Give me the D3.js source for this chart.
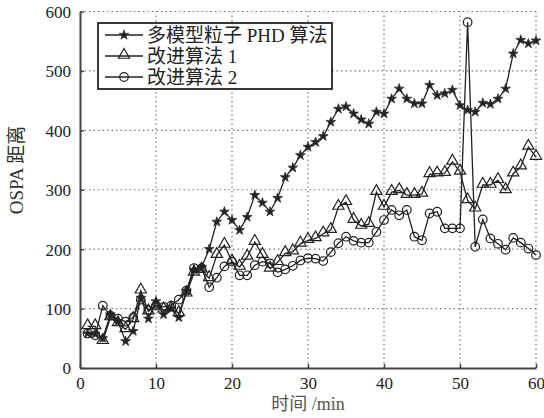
<!DOCTYPE html>
<html>
<head>
<meta charset="utf-8"/>
<title>OSPA</title>
<script src="https://cdn.jsdelivr.net/npm/d3@7"></script>
<style>
  body { margin: 0; background: #fff; }
  svg text { font-family: "Liberation Serif", "Noto Sans CJK SC", serif; fill: #222; }
</style>
</head>
<body>
<div id="chart"></div>
<script>
// time steps 1..60 (min)
var times = d3.range(1, 61);

var seriesNames = ["多模型粒子 PHD 算法", "改进算法 1", "改进算法 2"];

var phd = [58,57,50,90,78,45,62,118,83,112,90,100,85,130,165,170,200,246,263,249,
           232,254,291,278,263,286,321,337,358,372,380,390,414,436,440,428,418,411,431,428,
           453,470,453,445,445,476,459,462,468,442,434,431,446,444,453,470,529,552,546,551];

var improved1 = [70,70,45,85,75,65,82,130,95,105,98,100,92,125,160,165,151,190,207,179,
                 170,187,212,190,167,178,193,196,209,215,218,226,232,271,279,249,239,242,296,271,
                 296,299,291,291,293,326,327,328,347,330,282,268,308,308,316,299,327,339,372,355];

var improved2 = [58,55,105,88,83,78,85,115,97,105,103,105,115,130,168,168,136,152,171,179,
                 156,156,173,179,176,161,166,172,181,185,184,180,195,210,221,214,211,211,229,249,
                 266,257,266,221,215,260,263,235,235,235,582,204,250,218,209,199,219,211,201,190];

var xTicks = [0, 10, 20, 30, 40, 50, 60];
var yTicks = [0, 100, 200, 300, 400, 500, 600];

var width = 544, height = 418;
var margin = {left: 80, right: 8, top: 11.5, bottom: 50};

var svg = d3.select("#chart").append("svg")
  .attr("width", width).attr("height", height);

var x = d3.scaleLinear().domain([0, 60]).range([margin.left, width - margin.right]);
var y = d3.scaleLinear().domain([0, 600]).range([height - margin.bottom, margin.top]);

// grid
var grid = svg.append("g").attr("stroke", "#777").attr("stroke-width", 1.2)
  .attr("stroke-dasharray", "1.5,3");
grid.selectAll("line.gx").data(xTicks.slice(1)).enter().append("line")
  .attr("x1", d => x(d)).attr("x2", d => x(d))
  .attr("y1", y(0)).attr("y2", y(600));
grid.selectAll("line.gy").data(yTicks.slice(1)).enter().append("line")
  .attr("x1", x(0)).attr("x2", x(60))
  .attr("y1", d => y(d)).attr("y2", d => y(d));

// axes
var xAxis = d3.axisBottom(x).tickValues(xTicks).tickSizeInner(-4).tickSizeOuter(0).tickPadding(9);
var yAxis = d3.axisLeft(y).tickValues(yTicks).tickSizeInner(-4).tickSizeOuter(0).tickPadding(9);

var gx = svg.append("g").attr("transform", "translate(0," + y(0) + ")").call(xAxis);
var gy = svg.append("g").attr("transform", "translate(" + x(0) + ",0)").call(yAxis);
[gx, gy].forEach(function(g) {
  g.select(".domain").attr("stroke", "#444").attr("stroke-width", 2);
  g.selectAll(".tick line").attr("stroke", "#444").attr("stroke-width", 1.5);
  g.selectAll(".tick text").attr("font-size", 17).attr("fill", "#222")
    .attr("font-family", "Liberation Serif");
});
gy.selectAll(".tick text").attr("dy", "0.35em");

// axis titles
svg.append("text").attr("x", x(30)).attr("y", 410).attr("text-anchor", "middle")
  .attr("font-size", 18).style("fill", "#555").text("时间 /min");
svg.append("text").attr("transform", "translate(23,170) rotate(-90)")
  .attr("text-anchor", "middle").attr("font-size", 19).style("fill", "#333").text("OSPA 距离");

// series
var line = d3.line().x(d => x(d[0])).y(d => y(d[1]));
var starSym = d3.symbol().type(d3.symbolStar).size(30);
var triSym = d3.symbol().type(d3.symbolTriangle).size(55);

var data = [phd, improved1, improved2].map(vals => times.map((t, i) => [t, vals[i]]));

var plot = svg.append("g");
data.forEach(function(pts) {
  plot.append("path").datum(pts).attr("d", line)
    .attr("fill", "none").attr("stroke", "#222").attr("stroke-width", 1.3);
});

function drawMarkers(g, pts, kind) {
  if (kind === 0) {
    g.selectAll(null).data(pts).enter().append("path")
      .attr("d", starSym).attr("transform", d => "translate(" + x(d[0]) + "," + y(d[1]) + ")")
      .attr("fill", "#222").attr("stroke", "#333").attr("stroke-width", 0.8);
  } else if (kind === 1) {
    g.selectAll(null).data(pts).enter().append("path")
      .attr("d", triSym).attr("transform", d => "translate(" + x(d[0]) + "," + (y(d[1]) - 1) + ")")
      .attr("fill", "none").attr("stroke", "#222").attr("stroke-width", 1.2);
  } else {
    g.selectAll(null).data(pts).enter().append("circle")
      .attr("cx", d => x(d[0])).attr("cy", d => y(d[1])).attr("r", 4.3)
      .attr("fill", "none").attr("stroke", "#222").attr("stroke-width", 1.2);
  }
}
data.forEach(function(pts, k) { drawMarkers(plot.append("g"), pts, k); });

// legend
var lg = svg.append("g");
lg.append("rect").attr("x", 98).attr("y", 23).attr("width", 234).attr("height", 66)
  .attr("fill", "#fff").attr("stroke", "#222").attr("stroke-width", 1.8);
seriesNames.forEach(function(name, k) {
  var ly = 35 + k * 21;
  var row = lg.append("g");
  row.append("line").attr("x1", 105).attr("x2", 143).attr("y1", ly).attr("y2", ly)
    .attr("stroke", "#222").attr("stroke-width", 1.3);
  drawMarkers(row, [[0, 0]], k);
  row.selectAll("path, circle").attr("transform", k === 1 ? "translate(124," + (ly - 1) + ")" : "translate(124," + ly + ")");
  if (k === 2) row.select("circle").attr("cx", 0).attr("cy", 0);
  row.append("text").attr("x", 147).attr("y", ly).attr("dy", "0.35em")
    .attr("font-size", 19).text(name);
});
</script>
</body>
</html>
